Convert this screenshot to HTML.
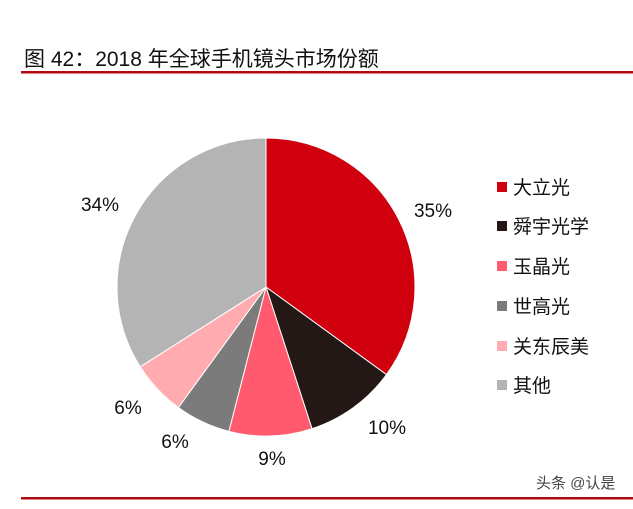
<!DOCTYPE html>
<html><head><meta charset="utf-8"><style>
body{margin:0;background:#fff;width:633px;height:504px;overflow:hidden}
svg text{font-family:"Liberation Sans","Noto Sans CJK SC",sans-serif}
</style></head><body>
<svg width="633" height="504" viewBox="0 0 633 504">
<text x="24" y="66" font-size="21" fill="#111">图 42：2018 年全球手机镜头市场份额</text>
<rect x="21" y="71" width="612" height="2.5" fill="#b00a12"/>
<g stroke="#fff" stroke-width="1">
<path d="M266,287 L266,138 A149,149 0 0 1 386.5,374.6 Z" fill="#d0000f"/>
<path d="M266,287 L386.5,374.6 A149,149 0 0 1 312,428.7 Z" fill="#231815"/>
<path d="M266,287 L312,428.7 A149,149 0 0 1 228.9,431.3 Z" fill="#ff5a6e"/>
<path d="M266,287 L228.9,431.3 A149,149 0 0 1 178.4,407.5 Z" fill="#7b7b7b"/>
<path d="M266,287 L178.4,407.5 A149,149 0 0 1 140.2,366.8 Z" fill="#ffabb0"/>
<path d="M266,287 L140.2,366.8 A149,149 0 0 1 266,138 Z" fill="#b4b4b4"/>
</g>
<g font-size="19" fill="#111" text-anchor="middle">
<text x="433" y="217">35%</text>
<text x="387" y="434">10%</text>
<text x="272" y="465">9%</text>
<text x="175" y="448">6%</text>
<text x="128" y="414">6%</text>
<text x="100" y="211">34%</text>
</g>
<g font-size="19" fill="#111">
<rect x="497" y="182" width="10" height="10" fill="#d0000f"/><text x="513" y="194">大立光</text>
<rect x="497" y="221" width="10" height="10" fill="#231815"/><text x="513" y="233">舜宇光学</text>
<rect x="497" y="261" width="10" height="10" fill="#ff5a6e"/><text x="513" y="273">玉晶光</text>
<rect x="497" y="301" width="10" height="10" fill="#7b7b7b"/><text x="513" y="313">世高光</text>
<rect x="497" y="341" width="10" height="10" fill="#ffabb0"/><text x="513" y="353">关东辰美</text>
<rect x="497" y="380" width="10" height="10" fill="#b4b4b4"/><text x="513" y="392">其他</text>
</g>
<text x="536" y="488" font-size="15" fill="#444">头条 @认是</text>
<rect x="21" y="497" width="612" height="2.5" fill="#b00a12"/>
</svg>
</body></html>
